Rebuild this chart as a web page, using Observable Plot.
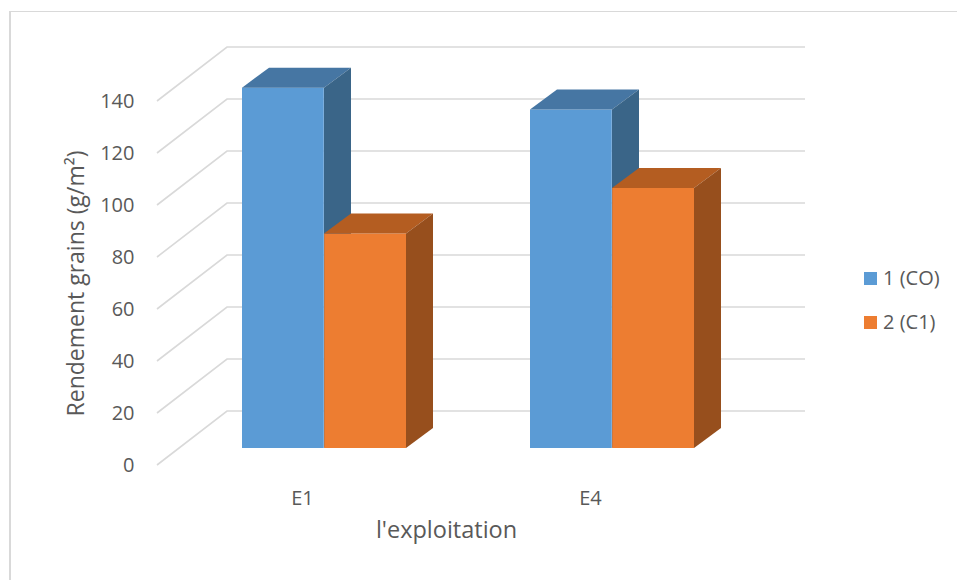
<!DOCTYPE html>
<html>
<head>
<meta charset="utf-8">
<script src="https://cdn.jsdelivr.net/npm/d3@7"></script>
<script src="https://cdn.jsdelivr.net/npm/@observablehq/plot@0.6"></script>
<style>
  body { margin: 0; background: #fff; }
  #wrap { position: relative; width: 957px; height: 580px; font-family: 'Open Sans', sans-serif; color: #595959; overflow: hidden; }
  #frame { position: absolute; left: 9px; top: 11px; width: 960px; height: 600px; border-top: 1.5px solid #d9d9d9; border-left: 2px solid #d9d9d9; pointer-events: none; }
  .leg { position: absolute; left: 864px; display: flex; align-items: center; font-size: 20px; line-height: 20px; white-space: nowrap; }
  .leg .sw { width: 13px; height: 13px; margin-right: 6px; }
</style>
</head>
<body>
<div id="wrap">
  <div id="chart"></div>
  <div id="legend"></div>
  <div id="frame"></div>
</div>
<script>
// ---- data ----
const categories = ["E1", "E4"];
const seriesNames = ["1 (CO)", "2 (C1)"];
const serie1 = [138.6, 130.2];
const serie2 = [82.5, 100.0];
const yTicks = [0, 20, 40, 60, 80, 100, 120, 140];
const yTitle = "Rendement grains (g/m²)";
const xTitle = "l'exploitation";

// ---- styles ----
const palette = [
  { front: "#5B9BD5", top: "#4676A3", side: "#3A6588" },
  { front: "#ED7D31", top: "#B45D21", side: "#974F1D" }
];
const DEPTH = [70, -54];       // full floor depth (front plane -> back wall)
const BAR_FRONT = [22, -17];   // bar front plane offset
const BAR_DEPTH = [27, -20];   // bar thickness
const HALF = 82.2;             // half of group band width (one bar)
const GRID = "#d9d9d9";

const rows = categories.flatMap((c, i) => [
  { cat: c, s: 0, series: seriesNames[0], value: serie1[i] },
  { cat: c, s: 1, series: seriesNames[1], value: serie2[i] }
]);

function gridMark(index, scales, values, dim) {
  const g = d3.create("svg:g");
  const x0 = dim.marginLeft, x1 = dim.width - dim.marginRight;
  for (const t of yTicks) {
    const y = scales.y(t);
    g.append("polyline")
      .attr("points", `${x0},${y} ${x0 + DEPTH[0]},${y + DEPTH[1]} ${x1 + DEPTH[0]},${y + DEPTH[1]}`)
      .attr("fill", "none").attr("stroke", GRID).attr("stroke-width", 1.6);
  }
  return g.node();
}

function facesMark(s) {
  return function (index, scales) {
    const g = d3.create("svg:g");
    const bw = scales.x.bandwidth ? scales.x.bandwidth() : HALF * 2;
    const half = bw / 2;
    const [ddx, ddy] = BAR_DEPTH;
    for (const r of rows.filter(d => d.s === s)) {
      const xl = scales.x(r.cat) + s * half + BAR_FRONT[0];
      const xr = xl + half;
      const yt = scales.y(r.value) + BAR_FRONT[1];
      const yb = scales.y(0) + BAR_FRONT[1];
      g.append("polygon")
        .attr("points", `${xl},${yt} ${xr},${yt} ${xr + ddx},${yt + ddy} ${xl + ddx},${yt + ddy}`)
        .attr("fill", palette[s].top);
      g.append("polygon")
        .attr("points", `${xr},${yt} ${xr + ddx},${yt + ddy} ${xr + ddx},${yb + ddy} ${xr},${yb}`)
        .attr("fill", palette[s].side);
    }
    return g.node();
  };
}

const chart = Plot.plot({
  width: 957,
  height: 580,
  marginLeft: 157,
  marginRight: 222,
  marginTop: 101,
  marginBottom: 115,
  style: { fontFamily: "'Open Sans', sans-serif", fontSize: "20px", color: "#595959", background: "transparent" },
  x: { domain: categories, paddingInner: 0.43, paddingOuter: 0.2167 },
  y: { domain: [0, 140] },
  marks: [
    gridMark,
    Plot.axisY({ ticks: yTicks, tickSize: 0, tickPadding: 23, label: null, fontSize: 20 }),
    Plot.axisX({ tickSize: 0, tickPadding: 25, label: null, fontSize: 20 }),
    Plot.barY(rows.filter(d => d.s === 0), { x: "cat", y: "value", fill: palette[0].front, insetRight: HALF, dx: BAR_FRONT[0], dy: BAR_FRONT[1] }),
    facesMark(0),
    Plot.barY(rows.filter(d => d.s === 1), { x: "cat", y: "value", fill: palette[1].front, insetLeft: HALF, dx: BAR_FRONT[0], dy: BAR_FRONT[1] }),
    facesMark(1),
    Plot.text([yTitle], { frameAnchor: "left", textAnchor: "middle", text: d => d, rotate: -90, dx: -81, fontSize: 23, fill: "#595959" }),
    Plot.text([xTitle], { frameAnchor: "bottom", textAnchor: "middle", text: d => d, dy: 72, fontSize: 23.5, fill: "#595959" })
  ]
});
document.getElementById("chart").appendChild(chart);

// legend
const legend = document.getElementById("legend");
const legTops = [278, 322];
seriesNames.forEach((name, i) => {
  const el = document.createElement("div");
  el.className = "leg";
  el.style.top = (legTops[i] - 10) + "px";
  el.innerHTML = `<span class="sw" style="background:${palette[i].front}"></span><span>${name}</span>`;
  legend.appendChild(el);
});
</script>
</body>
</html>
